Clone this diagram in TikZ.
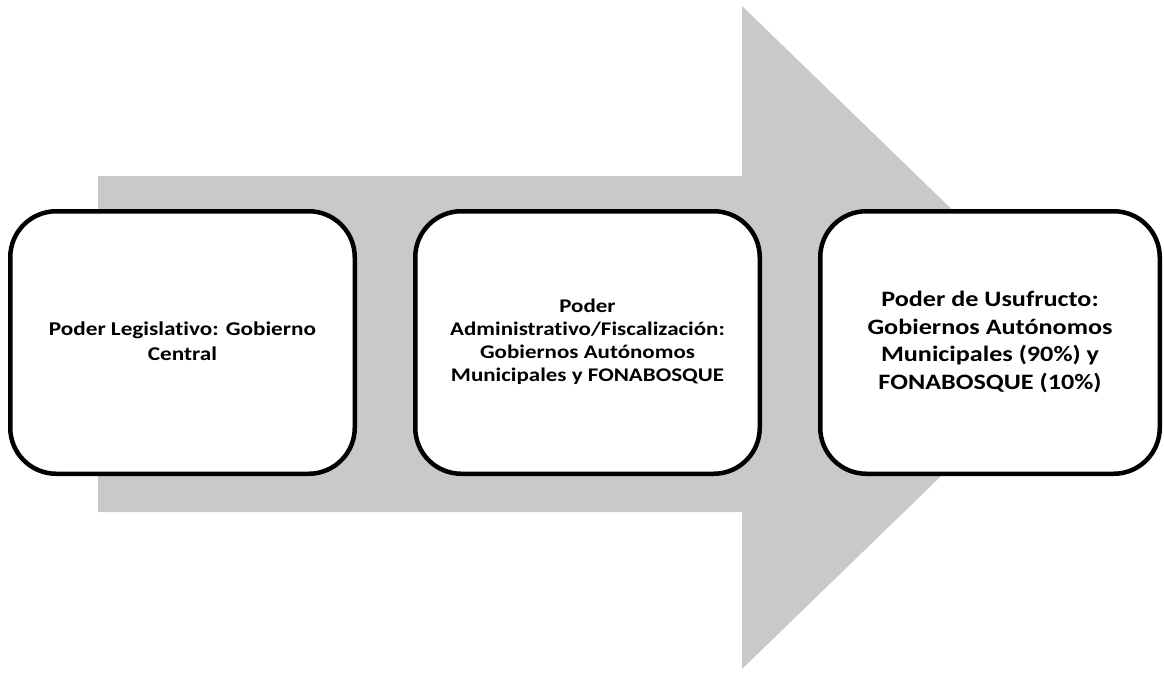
\documentclass[tikz,border=0pt]{standalone}
\usepackage{fontspec}
\usepackage{graphicx}
\setmainfont{Carlito}[Ligatures={NoCommon,NoRequired,NoContextual}]
\definecolor{arrowgray}{RGB}{201,201,201}
\newcommand{\stagetext}[3]{\fontsize{#1}{#2}\selectfont\bfseries\scalebox{1.19}[1]{\begin{tabular}{@{}c@{}}#3\end{tabular}}}
\begin{document}
\begin{tikzpicture}[x=1pt,y=-1pt,
  stagebox/.style={draw=black, fill=white, line width=4.5pt, rounded corners=46pt,
    minimum height=262.5pt, align=center, inner sep=0pt}]
\useasboundingbox (0,0) rectangle (1164,675);
\fill[white] (0,0) rectangle (1164,675);
% big arrow
\fill[arrowgray] (98,176) -- (742,176) -- (742,6) -- (1084,337.5) -- (742,669) -- (742,512) -- (98,512) -- cycle;
% boxes
\node[stagebox, minimum width=344.5pt] (b1) at (182.5,342.5)
  {\stagetext{19.5}{25}{Poder Legislativo: Gobierno\\Central}};
\node[stagebox, minimum width=344.5pt] (b2) at (587.5,342.5)
  {\stagetext{19.3}{22.7}{Poder\\Administrativo/Fiscalización:\\Gobiernos Autónomos\\Municipales y FONABOSQUE}};
\node[stagebox, minimum width=339.5pt] (b3) at (990,342.5)
  {\stagetext{22}{27.7}{Poder de Usufructo:\\Gobiernos Autónomos\\Municipales (90\%) y\\FONABOSQUE (10\%)}};
\end{tikzpicture}
\end{document}
